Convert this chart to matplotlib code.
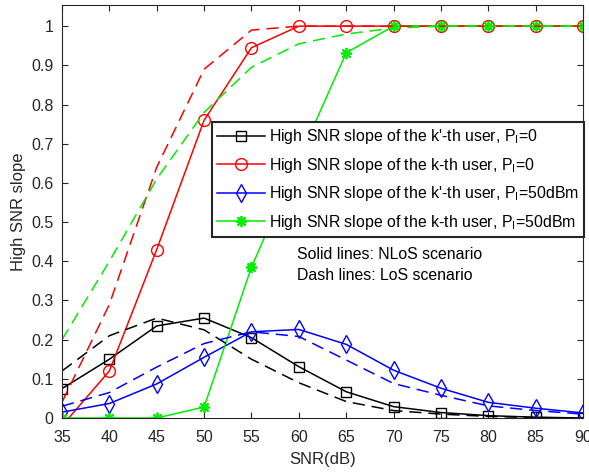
import matplotlib
matplotlib.use('Agg')
import matplotlib.pyplot as plt

plt.rcParams['font.family'] = ['Liberation Sans', 'DejaVu Sans']
plt.rcParams['mathtext.fontset'] = 'custom'
plt.rcParams['mathtext.rm'] = 'Liberation Sans'

snr = [35, 40, 45, 50, 55, 60, 65, 70, 75, 80, 85, 90]

# solid = NLoS, dashed = LoS
kp_p0_nlos = [0.075, 0.15, 0.235, 0.255, 0.205, 0.131, 0.067, 0.029, 0.014, 0.006, 0.002, 0.0]
kp_p0_los = [0.12, 0.21, 0.255, 0.225, 0.15, 0.09, 0.042, 0.019, 0.01, 0.004, 0.001, 0.0]
k_p0_nlos = [-0.02, 0.12, 0.43, 0.76, 0.945, 1.0, 1.0, 1.0, 1.0, 1.0, 1.0, 1.0]
k_p0_los = [0.04, 0.29, 0.64, 0.89, 0.99, 1.0, 1.0, 1.0, 1.0, 1.0, 1.0, 1.0]
kp_p50_nlos = [0.015, 0.037, 0.087, 0.155, 0.22, 0.226, 0.188, 0.122, 0.076, 0.04, 0.025, 0.013]
kp_p50_los = [0.03, 0.065, 0.13, 0.19, 0.22, 0.208, 0.148, 0.088, 0.058, 0.031, 0.019, 0.01]
k_p50_nlos = [0.0, 0.0, 0.0, 0.028, 0.385, 0.66, 0.932, 1.0, 1.0, 1.0, 1.0, 1.0]
k_p50_los = [0.2, 0.4, 0.61, 0.78, 0.895, 0.955, 0.98, 0.995, 1.0, 1.0, 1.0, 1.0]

labels = ["High SNR slope of the k'-th user, P$_{\\rm I}$=0",
          "High SNR slope of the k-th user, P$_{\\rm I}$=0",
          "High SNR slope of the k'-th user, P$_{\\rm I}$=50dBm",
          "High SNR slope of the k-th user, P$_{\\rm I}$=50dBm"]

fig = plt.figure(figsize=(5.89, 4.74), dpi=100)
ax = fig.add_axes([62/589, 1-418/474, 521/589, 413/474])

lw = 1.1
green = '#00ee00'
ax.plot(snr, kp_p0_nlos, 'k-s', lw=lw, ms=7, mfc='none', label=labels[0])
ax.plot(snr, k_p0_nlos, 'r-o', lw=lw, ms=8.5, mfc='none', label=labels[1])
ax.plot(snr, kp_p50_nlos, 'b-d', lw=lw, ms=9, mfc='none', label=labels[2])
ax.plot(snr, k_p50_nlos, '-', marker=(8, 2, 0), color=green, lw=lw, ms=8, mew=1.3, label=labels[3])

ax.plot(snr, kp_p0_los, 'k--', lw=lw, dashes=(8, 4.5))
ax.plot(snr, k_p0_los, 'r--', lw=lw, dashes=(8, 4.5))
ax.plot(snr, kp_p50_los, 'b--', lw=lw, dashes=(8, 4.5))
ax.plot(snr, k_p50_los, '--', color=green, lw=lw, dashes=(8, 4.5))

ax.set_xlim(35, 90)
ax.set_ylim(0, 1.054)
ax.set_xticks(snr)
ax.set_yticks([0, 0.1, 0.2, 0.3, 0.4, 0.5, 0.6, 0.7, 0.8, 0.9, 1])
ax.set_yticklabels(['0', '0.1', '0.2', '0.3', '0.4', '0.5', '0.6', '0.7', '0.8', '0.9', '1'])
ax.tick_params(direction='in', top=True, right=True, labelsize=11.5, colors='#262626',
               length=4, pad=6)
ax.tick_params(axis='x', pad=9)
for s in ax.spines.values():
    s.set_color('#262626')
    s.set_linewidth(0.8)
ax.set_xlabel('SNR(dB)', fontsize=12, color='#262626', labelpad=5)
ax.set_ylabel('High SNR slope', fontsize=12, color='#262626', labelpad=4)

leg = ax.legend(loc='upper left', bbox_to_anchor=(0.288, 0.717), fontsize=11.4,
                fancybox=False, framealpha=1, edgecolor='#262626',
                borderpad=0.33, labelspacing=0.6, handlelength=3.0,
                handletextpad=0.25, borderaxespad=0)
leg.get_frame().set_linewidth(1.5)

ax.text(0.451, 0.397, 'Solid lines: NLoS scenario', transform=ax.transAxes, fontsize=11.4, va='center')
ax.text(0.451, 0.344, 'Dash lines: LoS scenario', transform=ax.transAxes, fontsize=11.4, va='center')

fig.savefig('out.png', dpi=100)
